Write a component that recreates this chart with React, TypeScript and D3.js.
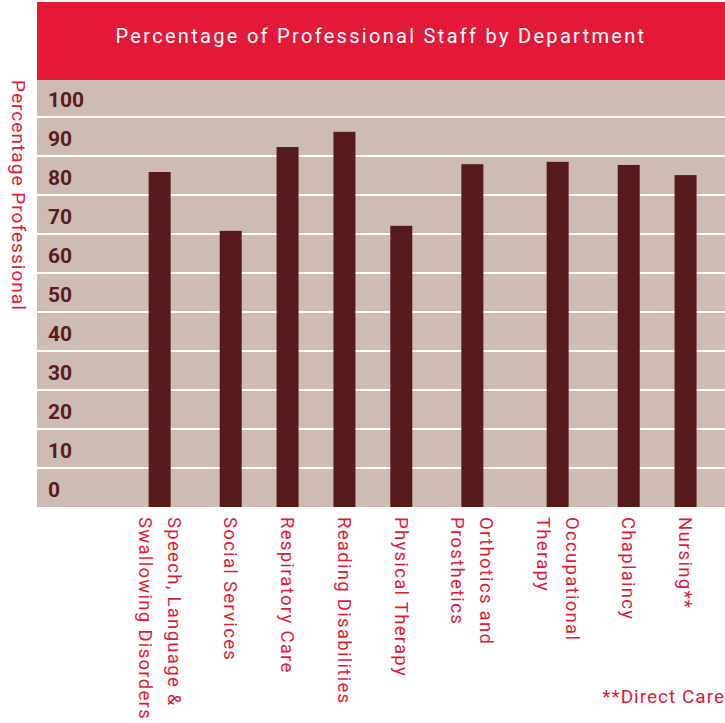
import React from "react";
import * as d3 from "d3";

const title = "Percentage of Professional Staff by Department";
const yAxisTitle = "Percentage Professional";
const footnote = "**Direct Care";

const departments: string[][] = [
  ["Speech, Language &", "Swallowing Disorders"],
  ["Social Services"],
  ["Respiratory Care"],
  ["Reading Disabilities"],
  ["Physical Therapy"],
  ["Orthotics and", "Prosthetics"],
  ["Occupational", "Therapy"],
  ["Chaplaincy"],
  ["Nursing**"],
];
const percentProfessional = [85.9, 70.8, 92.3, 96.2, 72.1, 87.9, 88.5, 87.7, 85.1];
const tickValues = [0, 10, 20, 30, 40, 50, 60, 70, 80, 90, 100];

const RED = "#e4193a";
const BAND = "#cebbb3";
const BAR = "#561a1d";
const TICK = "#5a1c21";
const FONT = "Roboto, 'DejaVu Sans', sans-serif";

const W = 725;
const H = 723;

const App: React.FC = () => {
  const svgRef = React.useRef<SVGSVGElement>(null);

  React.useEffect(() => {
    if (!svgRef.current) return;
    const svg = d3.select(svgRef.current);
    svg.selectAll("*").remove();

    const plot = { left: 37, right: 725, top: 80, bottom: 507 };
    const headerTop = 2;

    const y = d3.scaleLinear().domain([0, 100]).range([plot.bottom, 117]);

    // category slots are wider when the label wraps onto two lines
    const weights = departments.map(d => d.length + 1);
    const cum = d3.cumsum(weights);
    const total = cum[cum.length - 1];
    const x = d3.scaleLinear().domain([0, total]).range([117, 714]);
    const centers = weights.map((w, i) => x(cum[i] - w / 2));
    const barWidth = 22;

    // header
    svg
      .append("rect")
      .attr("x", plot.left)
      .attr("y", headerTop)
      .attr("width", plot.right - plot.left)
      .attr("height", plot.top - headerTop)
      .attr("fill", RED);
    svg
      .append("text")
      .attr("x", (plot.left + plot.right) / 2)
      .attr("y", 43)
      .attr("text-anchor", "middle")
      .attr("fill", "#fff")
      .style("font-family", FONT)
      .style("font-size", "20px")
      .style("letter-spacing", "2.3px")
      .text(title);

    // horizontal bands with white gaps
    const bands = svg.append("g");
    tickValues.forEach(v => {
      const yTop = v === 100 ? plot.top : y(v + 10) + 1;
      const yBot = v === 0 ? plot.bottom : y(v) - 1;
      bands
        .append("rect")
        .attr("x", plot.left)
        .attr("y", yTop)
        .attr("width", plot.right - plot.left)
        .attr("height", yBot - yTop)
        .attr("fill", BAND);
      bands
        .append("text")
        .attr("x", 48)
        .attr("y", (yTop + yBot) / 2 + 9)
        .attr("fill", TICK)
        .style("font-family", FONT)
        .style("font-weight", "700")
        .style("font-size", "21px")
        .text(v);
    });

    // bars
    svg
      .append("g")
      .selectAll("rect")
      .data(percentProfessional)
      .join("rect")
      .attr("x", (_, i) => centers[i] - barWidth / 2)
      .attr("y", d => y(d))
      .attr("width", barWidth)
      .attr("height", d => y(0) - y(d))
      .attr("fill", BAR);

    // rotated category labels
    const lineGap = 29;
    departments.forEach((lines, i) => {
      const t = svg
        .append("text")
        .attr("transform", `translate(${centers[i]},517) rotate(90)`)
        .attr("fill", RED)
        .style("font-family", FONT)
        .style("font-size", "18.5px")
        .style("letter-spacing", "1.3px");
      lines.forEach((line, k) => {
        t.append("tspan")
          .attr("x", 0)
          .attr("y", 6.5 + (k - (lines.length - 1) / 2) * lineGap)
          .text(line);
      });
    });

    // y axis title
    svg
      .append("text")
      .attr("transform", "translate(12,80) rotate(90)")
      .attr("fill", RED)
      .style("font-family", FONT)
      .style("font-size", "19px")
      .style("letter-spacing", "1.05px")
      .text(yAxisTitle);

    // footnote
    svg
      .append("text")
      .attr("x", 725)
      .attr("y", 703)
      .attr("text-anchor", "end")
      .attr("fill", RED)
      .style("font-family", FONT)
      .style("font-size", "19px")
      .style("letter-spacing", "1px")
      .text(footnote);
  }, []);

  return (
    <svg
      ref={svgRef}
      width={W}
      height={H}
      style={{ position: "absolute", left: 0, top: 0, background: "#fff" }}
    />
  );
};

export default App;
